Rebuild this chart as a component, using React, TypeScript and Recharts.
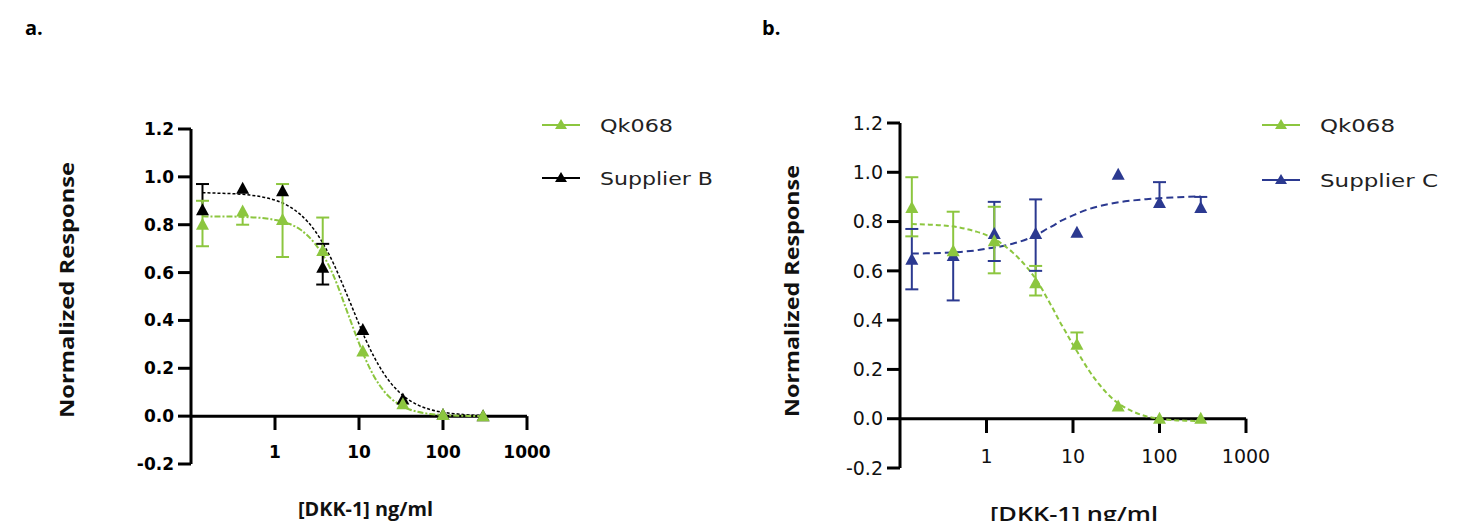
import React from 'react';
import { ComposedChart, Line, Scatter, XAxis, YAxis, ErrorBar, ReferenceLine } from 'recharts';

// ---------- data ----------
const concentrations = [0.137, 0.412, 1.23, 3.7, 11.1, 33.3, 100, 300];
const xTicks = [1, 10, 100, 1000];
const yTicks = [-0.2, 0, 0.2, 0.4, 0.6, 0.8, 1.0, 1.2];

// panel a  (error = [below, above]; 0 means that side is hidden in the figure)
const qkA = [0.8, 0.855, 0.82, 0.69, 0.27, 0.05, 0.005, 0.0];
const qkAErr = [[0.09, 0.1], [0.055, 0], [0.155, 0.15], [0, 0.14], [0, 0], [0, 0], [0, 0], [0, 0]];
const supB = [0.86, 0.95, 0.94, 0.62, 0.36, 0.07, 0.005, 0.0];
const supBErr = [[0, 0.11], [0, 0], [0, 0], [0.07, 0.1], [0, 0], [0, 0], [0, 0], [0, 0]];

// panel b
const qkB = [0.855, 0.68, 0.72, 0.55, 0.3, 0.05, 0.0, 0.0];
const qkBErr = [[0.115, 0.125], [0, 0.16], [0.13, 0.14], [0.05, 0.07], [0, 0.05], [0, 0], [0, 0], [0, 0]];
const supC = [0.645, 0.66, 0.75, 0.75, 0.755, 0.99, 0.875, 0.855];
const supCErr = [[0.12, 0.125], [0.18, 0], [0.11, 0.13], [0.15, 0.14], [0, 0], [0, 0], [0, 0.085], [0, 0.045]];

// fitted curves
const fitX = [0.137, 0.2, 0.3, 0.5, 0.75, 1, 1.5, 2, 3, 4, 5, 6, 7, 8, 10, 12, 15, 20, 30, 40, 50, 70, 100, 150, 200, 300];
const qkAFit = [0.835, 0.834, 0.834, 0.831, 0.827, 0.82, 0.803, 0.78, 0.72, 0.655, 0.585, 0.515, 0.45, 0.395, 0.305, 0.237, 0.168, 0.103, 0.049, 0.028, 0.018, 0.009, 0.005, 0.002, 0.001, 0.0];
const supBFit = [0.934, 0.932, 0.93, 0.924, 0.914, 0.903, 0.875, 0.843, 0.774, 0.703, 0.636, 0.573, 0.517, 0.468, 0.385, 0.32, 0.25, 0.175, 0.101, 0.066, 0.047, 0.028, 0.016, 0.009, 0.005, 0.003];
const qkBFit = [0.79, 0.788, 0.785, 0.775, 0.76, 0.745, 0.71, 0.675, 0.61, 0.55, 0.49, 0.44, 0.395, 0.36, 0.3, 0.255, 0.2, 0.14, 0.075, 0.045, 0.028, 0.01, 0.0, -0.006, -0.008, -0.01];
const supCFit = [0.67, 0.671, 0.673, 0.677, 0.683, 0.69, 0.7, 0.71, 0.73, 0.75, 0.77, 0.785, 0.8, 0.81, 0.825, 0.837, 0.85, 0.862, 0.875, 0.882, 0.886, 0.891, 0.895, 0.898, 0.9, 0.902];

// ---------- styles ----------
const GREEN = '#8cc63f';
const BLUE = '#2b3990';
const BLACK = '#000000';

const points = (vals: number[], errs: number[][]) =>
  concentrations.map((x, i) => ({ x, y: vals[i], err: errs[i] }));
const capPoints = (vals: number[], errs: number[][]) => {
  const out: { x: number; y: number }[] = [];
  concentrations.forEach((x, i) => {
    if (errs[i][0] > 0) out.push({ x, y: vals[i] - errs[i][0] });
    if (errs[i][1] > 0) out.push({ x, y: vals[i] + errs[i][1] });
  });
  return out;
};
const curve = (vals: number[]) => fitX.map((x, i) => ({ x, y: vals[i] }));

const triangle = (color: string) => (props: any) => {
  const { cx, cy } = props;
  if (cx == null || cy == null) return <g />;
  return (
    <polygon
      points={`${cx},${cy - 7} ${cx + 6.5},${cy + 5} ${cx - 6.5},${cy + 5}`}
      fill={color}
    />
  );
};
const capShape = (color: string) => (props: any) => {
  const { cx, cy } = props;
  if (cx == null || cy == null) return <g />;
  return <line x1={cx - 6.5} x2={cx + 6.5} y1={cy} y2={cy} stroke={color} strokeWidth={2} />;
};
const emptyShape = () => <g />;

type Series = { pts: any[]; caps: any[]; fit: any[]; color: string; dash: string; width: number };

type PanelProps = {
  left: number;
  width: number;
  height: number;
  margin: { top: number; right: number; bottom: number; left: number };
  series: Series[];
  tickFont: number;
  tickWeight: number | string;
  tickFill: string;
  labelDy: number;
};

function Panel(p: PanelProps) {
  const XTick = (props: any) => {
    const { x, y, payload } = props;
    return (
      <text
        x={x}
        y={y + p.labelDy}
        textAnchor="middle"
        fontFamily="DejaVu Sans"
        fontSize={p.tickFont}
        fontWeight={p.tickWeight}
        fill={p.tickFill}
      >
        {payload.value}
      </text>
    );
  };
  return (
    <div style={{ position: 'absolute', left: p.left, top: 0 }}>
      <ComposedChart width={p.width} height={p.height} margin={p.margin}>
        <XAxis
          dataKey="x"
          type="number"
          scale="log"
          domain={[0.1, 1000]}
          allowDataOverflow
          ticks={xTicks}
          axisLine={false}
          tickLine={false}
          tickSize={0}
          tickMargin={0}
          height={30}
          tick={XTick}
          interval={0}
        />
        <YAxis
          type="number"
          domain={[-0.2, 1.2]}
          ticks={yTicks}
          interval={0}
          width={60}
          allowDataOverflow
          tickFormatter={(v: number) => v.toFixed(1)}
          axisLine={{ stroke: '#000', strokeWidth: 3 }}
          tickLine={{ stroke: '#000', strokeWidth: 3 }}
          tickSize={13}
          tickMargin={4}
          tick={{ fontFamily: 'DejaVu Sans', fontSize: p.tickFont, fontWeight: p.tickWeight as any, fill: p.tickFill }}
        />
        <ReferenceLine y={0} stroke="#000" strokeWidth={3} />
        {xTicks.map((t) => (
          <ReferenceLine
            key={t}
            segment={[{ x: t, y: 0 }, { x: t, y: -0.058 }]}
            stroke="#000"
            strokeWidth={3}
          />
        ))}
        {p.series.map((s, i) => (
          <Line
            key={'l' + i}
            data={s.fit}
            dataKey="y"
            type="monotone"
            stroke={s.color}
            strokeWidth={s.width}
            strokeDasharray={s.dash}
            dot={false}
            activeDot={false}
            isAnimationActive={false}
          />
        ))}
        {p.series.map((s, i) => (
          <Scatter
            key={'w' + i}
            data={s.pts}
            dataKey="y"
            fill={s.color}
            shape={emptyShape}
            isAnimationActive={false}
          >
            <ErrorBar dataKey="err" direction="y" width={0} stroke={s.color} strokeWidth={2} />
          </Scatter>
        ))}
        {p.series.map((s, i) => (
          <Scatter
            key={'c' + i}
            data={s.caps}
            dataKey="y"
            fill={s.color}
            shape={capShape(s.color)}
            isAnimationActive={false}
          />
        ))}
        {p.series.map((s, i) => (
          <Scatter
            key={'s' + i}
            data={s.pts}
            dataKey="y"
            fill={s.color}
            shape={triangle(s.color)}
            isAnimationActive={false}
          />
        ))}
      </ComposedChart>
    </div>
  );
}

const LegendRow = ({ x, y, color, label, len }: { x: number; y: number; color: string; label: string; len: number }) => (
  <g>
    <line x1={x} y1={y} x2={x + 38} y2={y} stroke={color} strokeWidth={2} />
    <polygon points={`${x + 19},${y - 6} ${x + 25},${y + 4} ${x + 13},${y + 4}`} fill={color} />
    <text
      x={x + 58}
      y={y + 6.5}
      fontFamily="DejaVu Sans"
      fontSize={18}
      fill="#222"
      textLength={len}
      lengthAdjust="spacingAndGlyphs"
    >
      {label}
    </text>
  </g>
);

export default function App() {
  const seriesA: Series[] = [
    { pts: points(supB, supBErr), caps: capPoints(supB, supBErr), fit: curve(supBFit), color: BLACK, dash: '3 2', width: 1.5 },
    { pts: points(qkA, qkAErr), caps: capPoints(qkA, qkAErr), fit: curve(qkAFit), color: GREEN, dash: '6 2 2 2', width: 2 },
  ];
  const seriesB: Series[] = [
    { pts: points(supC, supCErr), caps: capPoints(supC, supCErr), fit: curve(supCFit), color: BLUE, dash: '7 4', width: 2 },
    { pts: points(qkB, qkBErr), caps: capPoints(qkB, qkBErr), fit: curve(qkBFit), color: GREEN, dash: '5 3', width: 2 },
  ];
  return (
    <div style={{ position: 'relative', width: 1452, height: 513, background: '#fff' }}>
      <Panel
        left={0}
        width={740}
        height={520}
        margin={{ top: 121, right: 221, bottom: 34, left: 123 }}
        series={seriesA}
        tickFont={17}
        tickWeight="bold"
        tickFill="#000"
        labelDy={-6}
      />
      <Panel
        left={740}
        width={710}
        height={520}
        margin={{ top: 115, right: 212, bottom: 30, left: 92 }}
        series={seriesB}
        tickFont={19}
        tickWeight="normal"
        tickFill="#111"
        labelDy={-5}
      />
      <svg
        width={1452}
        height={521}
        style={{ position: 'absolute', left: 0, top: 0, pointerEvents: 'none' }}
      >
        <text x={17} y={27} fontFamily="Open Sans" fontWeight={700} fontSize={20} fill="#000">a.</text>
        <text x={754} y={27} fontFamily="Open Sans" fontWeight={700} fontSize={20} fill="#000">b.</text>

        <text
          x={0}
          y={0}
          transform="translate(66,282) rotate(-90)"
          textAnchor="middle"
          fontFamily="Open Sans"
          fontWeight={700}
          fontSize={19}
          fill="#111"
          textLength={256}
          lengthAdjust="spacingAndGlyphs"
        >
          Normalized Response
        </text>
        <text
          x={0}
          y={0}
          transform="translate(791,283) rotate(-90)"
          textAnchor="middle"
          fontFamily="Open Sans"
          fontWeight={700}
          fontSize={19}
          fill="#111"
          textLength={252}
          lengthAdjust="spacingAndGlyphs"
        >
          Normalized Response
        </text>

        <text
          x={290}
          y={508}
          fontFamily="Open Sans"
          fontWeight={700}
          fontSize={19}
          fill="#111"
          textLength={135}
          lengthAdjust="spacingAndGlyphs"
        >
          [DKK-1] ng/ml
        </text>
        <text
          x={982}
          y={513}
          fontFamily="Open Sans"
          fontWeight={600}
          fontSize={20}
          fill="#111"
          textLength={168}
          lengthAdjust="spacingAndGlyphs"
        >
          [DKK-1] ng/ml
        </text>

        <LegendRow x={534} y={117} color={GREEN} label="Qk068" len={73} />
        <LegendRow x={534} y={170} color={BLACK} label="Supplier B" len={113} />
        <LegendRow x={1254} y={117} color={GREEN} label="Qk068" len={75} />
        <LegendRow x={1254} y={172} color={BLUE} label="Supplier C" len={118} />
      </svg>
    </div>
  );
}
